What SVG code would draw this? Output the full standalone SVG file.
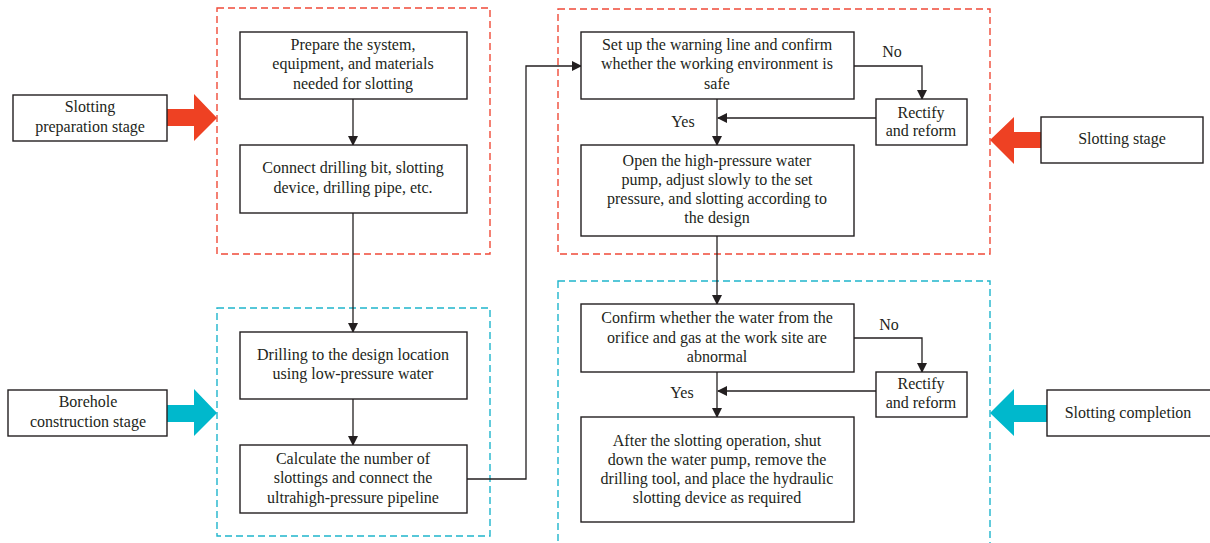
<svg xmlns="http://www.w3.org/2000/svg" width="1210" height="543" viewBox="0 0 1210 543">
  <defs>
    <marker id="arrow" markerWidth="10" markerHeight="10" refX="9" refY="5" orient="auto" markerUnits="userSpaceOnUse">
      <path d="M0,0 L10,5 L0,10 Z" fill="#231f20"/>
    </marker>
    <style>
      .box { fill: #ffffff; stroke: #231f20; stroke-width: 1.4; }
      .zone-red { fill: none; stroke: #f04a38; stroke-width: 1.4; stroke-dasharray: 7 4; }
      .zone-cyan { fill: none; stroke: #1fb5cc; stroke-width: 1.4; stroke-dasharray: 7 4; }
      .link { fill: none; stroke: #231f20; stroke-width: 1.3; }
      .arrowed { marker-end: url(#arrow); }
      text { font-family: "Liberation Serif", "Times New Roman", serif; font-size: 16px; fill: #231f20; text-anchor: middle; }
    </style>
  </defs>

  <rect width="1210" height="543" fill="#ffffff"/>

  <!-- stage zones -->
  <g id="zones">
    <rect class="zone-red" x="217" y="8" width="273" height="246"/>
    <rect class="zone-cyan" x="217" y="308" width="273" height="228"/>
    <rect class="zone-red" x="558" y="9" width="432" height="245"/>
    <rect class="zone-cyan" x="558" y="281" width="432" height="270"/>
  </g>

  <!-- wide stage arrows -->
  <g id="stage-arrows">
    <path d="M167,109 L194,109 L194,94 L217,118 L194,141 L194,126 L167,126 Z" fill="#ee4123"/>
    <path d="M167,405 L194,405 L194,389 L217,413 L194,436 L194,422 L167,422 Z" fill="#00b8cc"/>
    <path d="M1041,132 L1014,132 L1014,117 L990,140 L1014,164 L1014,148 L1041,148 Z" fill="#ee4123"/>
    <path d="M1047,405 L1014,405 L1014,389 L990,413 L1014,436 L1014,422 L1047,422 Z" fill="#00b8cc"/>
  </g>

  <!-- connectors -->
  <g id="connectors">
    <line class="link arrowed" x1="353" y1="99" x2="353" y2="145"/>
    <line class="link arrowed" x1="353" y1="213" x2="353" y2="332"/>
    <line class="link arrowed" x1="353" y1="399" x2="353" y2="445"/>
    <polyline class="link arrowed" points="467,479 526,479 526,66 581,66"/>
    <polyline class="link arrowed" points="854,66 922,66 922,99"/>
    <line class="link arrowed" x1="876" y1="118" x2="718" y2="118"/>
    <line class="link arrowed" x1="717" y1="99" x2="717" y2="145"/>
    <line class="link arrowed" x1="717" y1="236" x2="717" y2="304"/>
    <polyline class="link arrowed" points="854,338 922,338 922,372"/>
    <line class="link arrowed" x1="876" y1="391" x2="718" y2="391"/>
    <line class="link arrowed" x1="717" y1="372" x2="717" y2="417"/>
    <text x="892" y="57">No</text>
    <text x="683" y="127">Yes</text>
    <text x="889" y="330">No</text>
    <text x="682" y="398">Yes</text>
  </g>

  <!-- stage labels -->
  <g id="stage-preparation">
    <rect class="box" x="13" y="95" width="154" height="46"/>
    <text x="90" y="112">Slotting</text>
    <text x="90" y="132">preparation stage</text>
  </g>
  <g id="stage-borehole">
    <rect class="box" x="8" y="390" width="159" height="46"/>
    <text x="88" y="407">Borehole</text>
    <text x="88" y="427">construction stage</text>
  </g>
  <g id="stage-slotting">
    <rect class="box" x="1041" y="117" width="162" height="46"/>
    <text x="1122" y="144">Slotting stage</text>
  </g>
  <g id="stage-completion">
    <rect class="box" x="1047" y="390" width="170" height="46"/>
    <text x="1128" y="418">Slotting completion</text>
  </g>

  <!-- process steps -->
  <g id="prepare">
    <rect class="box" x="240" y="32" width="227" height="67"/>
    <text x="353" y="50">Prepare the system,</text>
    <text x="353" y="69">equipment, and materials</text>
    <text x="353" y="89">needed for slotting</text>
  </g>
  <g id="connect">
    <rect class="box" x="240" y="145" width="227" height="68"/>
    <text x="353" y="173">Connect drilling bit, slotting</text>
    <text x="353" y="193">device, drilling pipe, etc.</text>
  </g>
  <g id="drilling">
    <rect class="box" x="240" y="332" width="227" height="67"/>
    <text x="353" y="360">Drilling to the design location</text>
    <text x="353" y="379">using low-pressure water</text>
  </g>
  <g id="calculate">
    <rect class="box" x="240" y="445" width="227" height="68"/>
    <text x="353" y="464">Calculate the number of</text>
    <text x="353" y="483">slottings and connect the</text>
    <text x="353" y="503">ultrahigh-pressure pipeline</text>
  </g>
  <g id="warning">
    <rect class="box" x="581" y="32" width="273" height="67"/>
    <text x="717" y="50">Set up the warning line and confirm</text>
    <text x="717" y="69">whether the working environment is</text>
    <text x="717" y="89">safe</text>
  </g>
  <g id="rectify-1">
    <rect class="box" x="876" y="99" width="91" height="46"/>
    <text x="921" y="118">Rectify</text>
    <text x="921" y="136">and reform</text>
  </g>
  <g id="pump">
    <rect class="box" x="581" y="145" width="273" height="91"/>
    <text x="717" y="166">Open the high-pressure water</text>
    <text x="717" y="185">pump, adjust slowly to the set</text>
    <text x="717" y="204">pressure, and slotting according to</text>
    <text x="717" y="223">the design</text>
  </g>
  <g id="confirm">
    <rect class="box" x="581" y="304" width="273" height="68"/>
    <text x="717" y="323">Confirm whether the water from the</text>
    <text x="717" y="343">orifice and gas at the work site are</text>
    <text x="717" y="362">abnormal</text>
  </g>
  <g id="rectify-2">
    <rect class="box" x="876" y="372" width="91" height="45"/>
    <text x="921" y="389">Rectify</text>
    <text x="921" y="408">and reform</text>
  </g>
  <g id="finish">
    <rect class="box" x="581" y="417" width="273" height="105"/>
    <text x="717" y="446">After the slotting operation, shut</text>
    <text x="717" y="465">down the water pump, remove the</text>
    <text x="717" y="484">drilling tool, and place the hydraulic</text>
    <text x="717" y="503">slotting device as required</text>
  </g>
</svg>
